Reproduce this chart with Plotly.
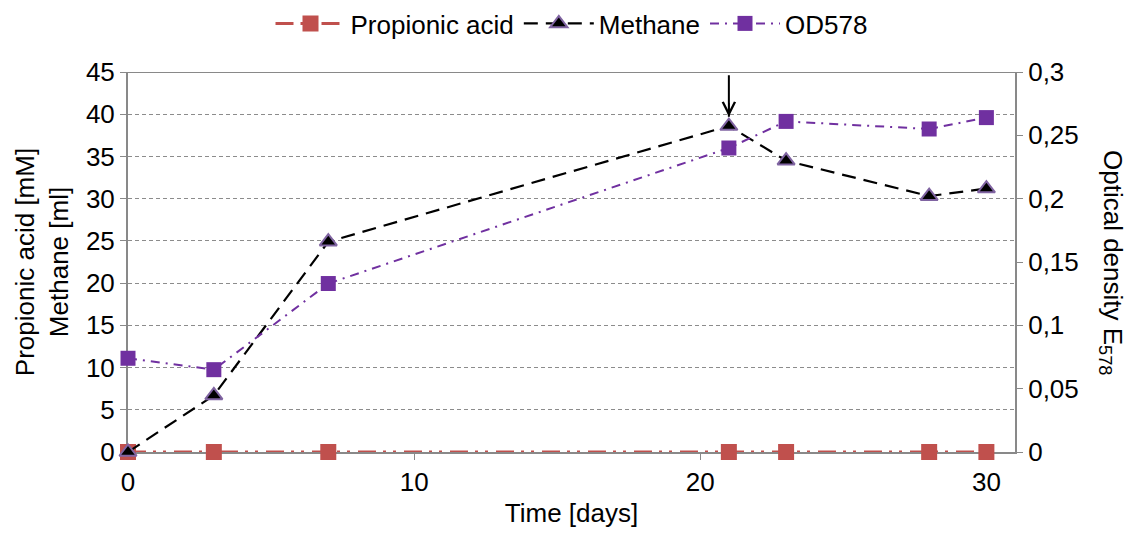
import plotly.graph_objects as go

# Sampling days and measured values
days = [0, 3, 7, 21, 23, 28, 30]
propionic_acid = [0, 0, 0, 0, 0, 0, 0]          # mM
methane = [0, 6.7, 24.9, 38.6, 34.5, 30.3, 31.2]  # ml
od578 = [0.074, 0.065, 0.133, 0.240, 0.261, 0.255, 0.264]

left_ticks = list(range(0, 50, 5))
right_ticks = [0, 0.05, 0.1, 0.15, 0.2, 0.25, 0.3]
right_labels = ["0", "0,05", "0,1", "0,15", "0,2", "0,25", "0,3"]

FONT = "Liberation Sans, Arial, sans-serif"
AXIS_GRAY = "#898989"
FS = 26

fig = go.Figure()

fig.add_trace(go.Scatter(
    x=days, y=propionic_acid, name="Propionic acid", mode="lines+markers",
    line=dict(color="#C0504D", width=3, dash="18px,7px,3px,7px,3px,8px"),
    marker=dict(symbol="square", size=16, color="#C0504D"),
    cliponaxis=False,
))
fig.add_trace(go.Scatter(
    x=days, y=methane, name="Methane", mode="lines+markers",
    line=dict(color="black", width=2.2, dash="14px,8px"),
    marker=dict(symbol="triangle-up", size=15, color="black",
                line=dict(color="#8064A2", width=2)),
    cliponaxis=False,
))
fig.add_trace(go.Scatter(
    x=days, y=od578, name="OD578", mode="lines+markers", yaxis="y2",
    line=dict(color="#7030A0", width=2, dash="9px,6px,2px,6px"),
    marker=dict(symbol="square", size=15, color="#7030A0"),
    cliponaxis=False,
))

fig.update_layout(
    width=1128, height=539,
    margin=dict(l=128, r=113, t=72, b=87, autoexpand=False),
    paper_bgcolor="white", plot_bgcolor="white",
    font=dict(family=FONT, size=FS, color="black"),
    separators=", ",
    showlegend=True,
    legend=dict(orientation="h", x=0.5, xanchor="center", y=1.0, yanchor="top",
                yref="container", font=dict(size=FS), itemwidth=70,
                traceorder="normal"),
    xaxis=dict(
        range=[0, 31], tickvals=[0, 10, 20, 30], ticks="outside", ticklen=6,
        tickcolor=AXIS_GRAY, showline=True, linecolor=AXIS_GRAY, linewidth=2,
        showgrid=False, zeroline=False, layer="below traces",
        title=dict(text="Time [days]", font=dict(size=FS), standoff=8),
    ),
    yaxis=dict(
        range=[0, 45], tickvals=left_ticks, ticks="outside", ticklen=6,
        tickcolor=AXIS_GRAY, showline=True, linecolor=AXIS_GRAY, linewidth=2,
        showgrid=True, gridcolor="#8c8c8c", griddash="4px,3px", gridwidth=1,
        zeroline=False, layer="below traces",
        title=dict(text="Propionic acid [mM]<br>Methane [ml]", font=dict(size=FS), standoff=10),
    ),
    yaxis2=dict(
        range=[0, 0.3], tickvals=right_ticks, ticktext=right_labels,
        overlaying="y", side="right", ticks="outside", ticklen=6,
        tickcolor=AXIS_GRAY, showline=True, linecolor=AXIS_GRAY, linewidth=2,
        showgrid=False, zeroline=False, layer="below traces",
    ),
    shapes=[
        dict(type="line", xref="paper", yref="y", x0=0, x1=1, y0=45, y1=45,
             line=dict(color=AXIS_GRAY, width=2), layer="below"),
    ],
    annotations=[
        dict(x=21, y=39.7, ax=21, ay=44.8, xref="x", yref="y", axref="x", ayref="y",
             showarrow=True, arrowhead=0, arrowwidth=2, arrowcolor="black", text=""),
        dict(x=21, y=39.7, ax=21, ay=41.5, xref="x", yref="y", axref="x", ayref="y",
             showarrow=True, arrowhead=5, arrowsize=1.6, arrowwidth=1.5,
             arrowcolor="black", text=""),
        dict(text="Optical density E<sub>578</sub>", textangle=90,
             xref="paper", yref="paper", x=1.0, y=0.5, xshift=97,
             showarrow=False, font=dict(size=FS), xanchor="center", yanchor="middle"),
    ],
)

fig.write_html("out.html")
